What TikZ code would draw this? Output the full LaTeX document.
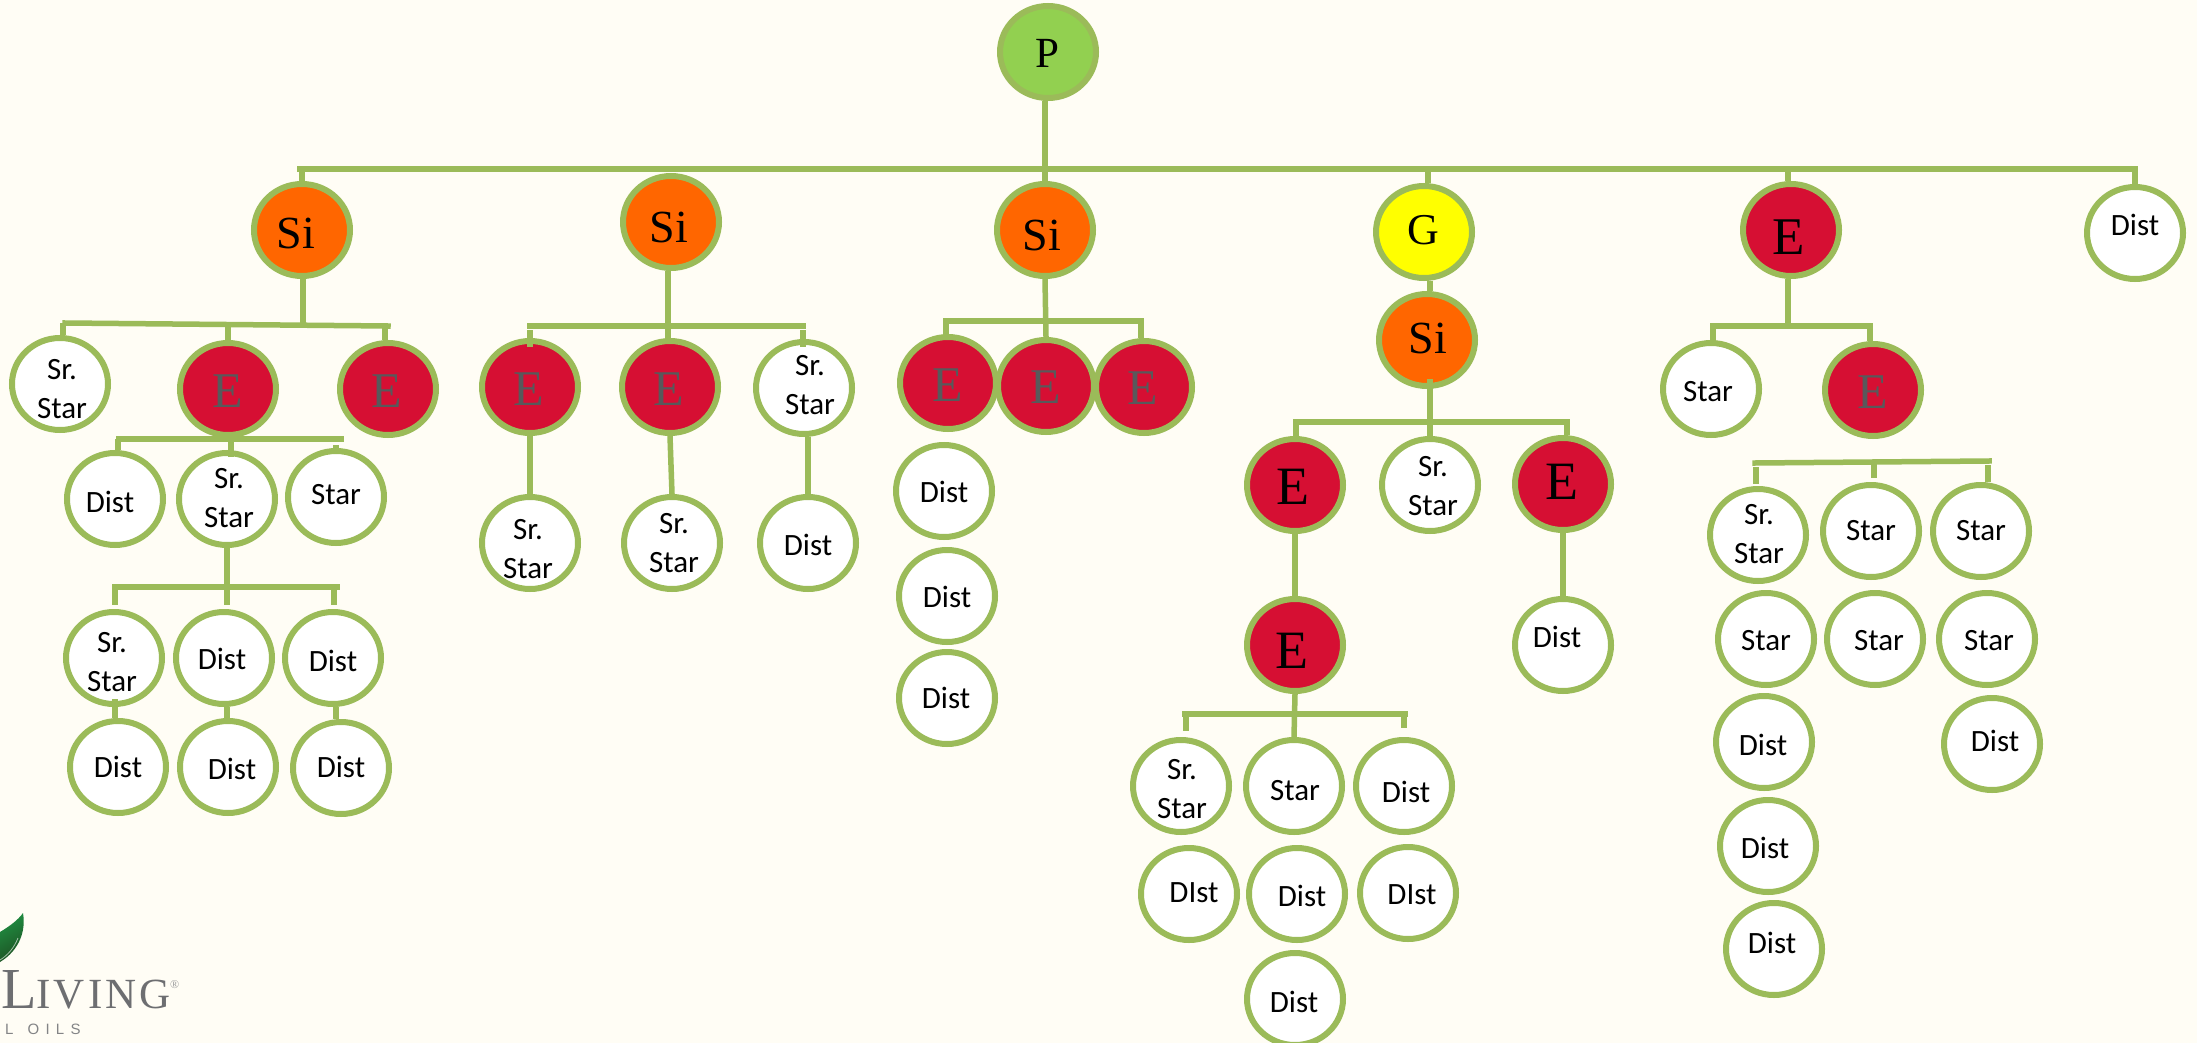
\documentclass[tikz,border=0pt]{standalone}
\usepackage{fontspec}
\setmainfont{Liberation Serif}
\setsansfont{Carlito}
\newfontfamily\logofont[LetterSpace=7]{Liberation Serif}
\newfontfamily\oilsfont[LetterSpace=42]{Liberation Sans}
\usetikzlibrary{shapes.geometric}

\definecolor{paper}{HTML}{FFFDF5}
\definecolor{ringgreen}{HTML}{9BBB59}
\definecolor{limefill}{HTML}{92D050}
\definecolor{sifill}{HTML}{FF6600}
\definecolor{goldfill}{HTML}{FFFF00}
\definecolor{efill}{HTML}{D60F33}
\definecolor{egrey}{HTML}{58595B}
\definecolor{logogrey}{HTML}{6D6E71}
\definecolor{leafdark}{HTML}{1E4F22}
\definecolor{leaflight}{HTML}{1F8F42}

\tikzset{
    member/.style={ellipse, draw=ringgreen, line width=6pt, minimum width=96pt, minimum height=92pt, inner sep=0pt},
    plainnode/.style={member, fill=white, align=center, font=\sffamily\fontsize{31}{39}\selectfont},
    rednode/.style={member, fill=efill},
    sinode/.style={member, fill=sifill},
    link/.style={draw=ringgreen, line width=5.5pt},
    bus/.style={link, line cap=rect},
    sanstag/.style n args={3}{label={[xshift=#1pt, yshift=#2pt, align=center, font=\sffamily\fontsize{31}{39}\selectfont]center:{#3}}},
    seriftag/.style n args={4}{label={[xshift=#1pt, yshift=#2pt, font=\rmfamily\fontsize{#3}{#3}\selectfont]center:{#4}}},
    greyE/.style 2 args={label={[xshift=#1pt, yshift=#2pt, text=egrey, font=\rmfamily\fontsize{50}{50}\selectfont]center:{E}}}
}

\begin{document}
\begin{tikzpicture}[x=1pt, y=-1pt]
    \useasboundingbox (0,0) rectangle (2197,1043);
    \fill[paper] (0,0) rectangle (2197,1043);

    % top of the tree
    \node[member, fill=limefill, seriftag={-1}{-1}{43}{P}] (p) at (1048,52) {};
    \node[sinode, seriftag={-6}{-3}{46}{Si}] (siA) at (302,230) {};
    \node[sinode, seriftag={-2}{-5}{46}{Si}] (siB) at (671,222) {};
    \node[sinode, seriftag={-3}{-5}{46}{Si}] (siC) at (1045,230) {};
    \node[member, fill=goldfill, seriftag={-1}{2}{44}{G}] (gold) at (1424,232) {};
    \node[sinode, seriftag={1}{2}{46}{Si}] (siD) at (1427,340) {};
    \node[rednode, seriftag={-2}{-7}{53}{E}] (eTop) at (1791,230) {};
    \node[plainnode, sanstag={0}{8}{Dist}] (dTop) at (2135,233) {};

    % first branch
    \node[plainnode, sanstag={2}{-5}{Sr.\\Star}] (srA) at (60,384) {};
    \node[rednode, greyE={0}{-2}] (eA) at (228,389) {};
    \node[rednode, greyE={-1}{-2}] (eB) at (388,389) {};
    \node[plainnode, sanstag={-5}{-3}{Dist}] (dA) at (115,499) {};
    \node[plainnode, sanstag={2}{1}{Sr.\\Star}] (srB) at (227,499) {};
    \node[plainnode, sanstag={0}{2}{Star}] (starA) at (336,497) {};
    \node[plainnode, sanstag={-2}{-4}{Sr.\\Star}] (srC) at (114,658) {};
    \node[plainnode, sanstag={-2}{-1}{Dist}] (dB) at (224,658) {};
    \node[plainnode, sanstag={0}{-3}{Dist}] (dC) at (333,658) {};
    \node[plainnode] (dD) at (118,767) {Dist};
    \node[plainnode, sanstag={4}{-2}{Dist}] (dE) at (228,767) {};
    \node[plainnode, sanstag={0}{1}{Dist}] (dF) at (341,768) {};

    % second branch
    \node[rednode, greyE={-1}{-2}] (eC) at (530,387) {};
    \node[rednode, greyE={-1}{-2}] (eD) at (670,387) {};
    \node[plainnode, sanstag={6}{3}{Sr.\\Star}] (srD) at (804,388) {};
    \node[plainnode, sanstag={-2}{-6}{Sr.\\Star}] (srE) at (530,543) {};
    \node[plainnode, sanstag={2}{0}{Sr.\\Star}] (srF) at (672,543) {};
    \node[plainnode, sanstag={0}{-2}{Dist}] (dG) at (808,543) {};

    % third branch
    \node[rednode, greyE={0}{-2}] (eE) at (948,383) {};
    \node[rednode, greyE={0}{-1}] (eF) at (1046,386) {};
    \node[rednode, greyE={-1}{-1}] (eG) at (1144,387) {};
    \node[plainnode, sanstag={0}{-1}{Dist}] (dH) at (944,491) {};
    \node[plainnode, sanstag={0}{-1}{Dist}] (dI) at (947,596) {};
    \node[plainnode, sanstag={-1}{0}{Dist}] (dJ) at (947,698) {};

    % fourth branch
    \node[rednode, seriftag={-2}{-2}{54}{E}] (eH) at (1295,485) {};
    \node[plainnode, sanstag={3}{-1}{Sr.\\Star}] (srG) at (1430,485) {};
    \node[rednode, seriftag={-1}{2}{54}{E}] (eI) at (1563,484) {};
    \node[rednode, seriftag={-3}{-6}{54}{E}] (eJ) at (1295,645) {};
    \node[plainnode, sanstag={-6}{8}{Dist}] (dK) at (1563,645) {};
    \node[plainnode, sanstag={1}{-3}{Sr.\\Star}] (srH) at (1181,786) {};
    \node[plainnode, sanstag={1}{-5}{Star}] (starB) at (1294,786) {};
    \node[plainnode, sanstag={2}{-6}{Dist}] (dL) at (1404,786) {};
    \node[plainnode, sanstag={5}{1}{DIst}] (dM) at (1189,894) {};
    \node[plainnode, sanstag={5}{-2}{Dist}] (dN) at (1297,894) {};
    \node[plainnode, sanstag={4}{-2}{DIst}] (dO) at (1408,893) {};
    \node[plainnode, sanstag={-1}{-3}{Dist}] (dP) at (1295,999) {};

    % fifth branch
    \node[plainnode, sanstag={-3}{-3}{Star}] (starC) at (1711,389) {};
    \node[rednode, greyE={0}{-2}] (eK) at (1873,390) {};
    \node[plainnode, sanstag={1}{1}{Sr.\\Star}] (srI) at (1758,535) {};
    \node[plainnode] (starD) at (1871,531) {Star};
    \node[plainnode] (starE) at (1981,531) {Star};
    \node[plainnode, sanstag={0}{-2}{Star}] (starF) at (1766,639) {};
    \node[plainnode, sanstag={4}{-2}{Star}] (starG) at (1875,639) {};
    \node[plainnode, sanstag={2}{-2}{Star}] (starH) at (1987,639) {};
    \node[plainnode, sanstag={-1}{-3}{Dist}] (dQ) at (1764,742) {};
    \node[plainnode, sanstag={3}{3}{Dist}] (dR) at (1992,744) {};
    \node[plainnode, sanstag={-3}{-2}{Dist}] (dS) at (1768,846) {};
    \node[plainnode, sanstag={-2}{6}{Dist}] (dT) at (1774,949) {};

    % top bus
    \coordinate (topL) at (300,169);
    \coordinate (topR) at (2135,169);
    \coordinate (topMid) at (1045,169);
    \coordinate (topS) at (302,169);
    \coordinate (topG) at (1428,169);
    \coordinate (topE) at (1788,169);
    \draw[bus] (topL) -- (topR);
    \draw[link] (topMid |- p.south) -- (topMid |- siC.north);
    \draw[link] (topS) -- (topS |- siA.north);
    \draw[link] (topG) -- (topG |- gold.north);
    \draw[link] (topE) -- (topE |- eTop.north);
    \draw[link] (topR) -- (topR |- dTop.north);

    % first branch links
    \coordinate (busA) at (65,323);
    \coordinate (busB) at (388,326);
    \coordinate (stemA) at (303,325);
    \coordinate (dropA) at (63,323);
    \coordinate (dropB) at (228,325);
    \coordinate (dropC) at (385,326);
    \draw[bus] (busA) -- (busB);
    \draw[link] (stemA |- siA.south) -- (stemA);
    \draw[link] (dropA) -- (dropA |- srA.north);
    \draw[link] (dropB) -- (dropB |- eA.north);
    \draw[link] (dropC) -- (dropC |- eB.north);
    \coordinate (busC) at (119,439);
    \coordinate (busD) at (341,439);
    \coordinate (dropD) at (118,439);
    \coordinate (dropE) at (231,439);
    \coordinate (endE) at (231,457);
    \coordinate (dropF) at (336,445);
    \draw[bus] (busC) -- (busD);
    \draw[link] (dropD) -- (dropD |- dA.north);
    \draw[link] (dropE) -- (endE);
    \draw[link] (dropF) -- (dropF |- starA.north);
    \coordinate (busE) at (115,587);
    \coordinate (busF) at (337,587);
    \coordinate (dropG) at (227,587);
    \coordinate (dropH) at (334,587);
    \coordinate (endG) at (115,605);
    \coordinate (endH) at (227,605);
    \coordinate (endI) at (334,605);
    \draw[bus] (busE) -- (busF);
    \draw[link] (srB.south) -- (dropG);
    \draw[link] (busE) -- (endG);
    \draw[link] (dropG) -- (endH);
    \draw[link] (dropH) -- (endI);
    \coordinate (lineA) at (115,699);
    \coordinate (lineB) at (227,700);
    \coordinate (lineC) at (336,700);
    \draw[link] (lineA) -- (lineA |- dD.north);
    \draw[link] (lineB |- dB.south) -- (lineB |- dE.north);
    \draw[link] (lineC |- dC.south) -- (lineC |- dF.north);

    % second branch links
    \coordinate (busG) at (530,326);
    \coordinate (busH) at (803,326);
    \coordinate (stemB) at (668,326);
    \coordinate (dropI) at (530,330);
    \coordinate (endJ) at (530,347);
    \coordinate (dropJ) at (803,330);
    \coordinate (endK) at (803,347);
    \coordinate (lineD) at (808,450);
    \draw[bus] (busG) -- (busH);
    \draw[link] (stemB |- siB.south) -- (stemB);
    \draw[link] (stemB) -- (stemB |- eD.north);
    \draw[link] (dropI) -- (endJ);
    \draw[link] (dropJ) -- (endK);
    \draw[link] (eC.south) -- (srE.north);
    \draw[link] (eD.south) -- (srF.north);
    \draw[link] (lineD |- srD.south) -- (lineD |- dG.north);

    % third branch links
    \coordinate (busI) at (946,321);
    \coordinate (busJ) at (1141,321);
    \draw[bus] (busI) -- (busJ);
    \draw[link] (siC.south) -- (eF.north);
    \draw[link] (busI) -- (busI |- eE.north);
    \draw[link] (busJ) -- (busJ |- eG.north);

    % fourth branch links
    \coordinate (lineE) at (1430,300);
    \coordinate (stemC) at (1430,379);
    \coordinate (busK) at (1296,422);
    \coordinate (busL) at (1567,422);
    \draw[link] (lineE |- gold.south) -- (lineE |- siD.north);
    \draw[link] (stemC) -- (stemC |- srG.north);
    \draw[bus] (busK) -- (busL);
    \draw[link] (busK) -- (busK |- eH.north);
    \draw[link] (busL) -- (busL |- eI.north);
    \draw[link] (eH.south) -- (eJ.north);
    \draw[link] (eI.south) -- (dK.north);
    \coordinate (busM) at (1185,714);
    \coordinate (busN) at (1405,714);
    \coordinate (endL) at (1186,731);
    \coordinate (endM) at (1404,728);
    \draw[bus] (busM) -- (busN);
    \draw[link] (eJ.south) -- (starB.north);
    \draw[link] (endL |- busM) -- (endL);
    \draw[link] (endM |- busN) -- (endM);

    % fifth branch links
    \coordinate (busO) at (1713,326);
    \coordinate (busP) at (1870,326);
    \draw[bus] (busO) -- (busP);
    \draw[link] (topE |- eTop.south) -- (topE |- busO);
    \draw[link] (busO) -- (busO |- starC.north);
    \draw[link] (busP) -- (busP |- eK.north);
    \coordinate (busQ) at (1755,463);
    \coordinate (busR) at (1989,461);
    \coordinate (dropK) at (1756,467);
    \coordinate (endN) at (1756,484);
    \coordinate (dropL) at (1874,462);
    \coordinate (endO) at (1874,478);
    \coordinate (dropM) at (1988,465);
    \coordinate (endP) at (1988,482);
    \draw[bus] (busQ) -- (busR);
    \draw[link] (dropK) -- (endN);
    \draw[link] (dropL) -- (endO);
    \draw[link] (dropM) -- (endP);

    % logo
    \shade[left color=leaflight, right color=leafdark, shading angle=30]
        (0,932) .. controls (10,926) and (18,920) .. (23,913)
        .. controls (26,930) and (20,950) .. (0,962) -- cycle;
    \draw[white, opacity=0.6, line width=0.8pt] (0,960) .. controls (8,955) and (14,948) .. (18,938);
    \node[anchor=base west, inner sep=0pt, text=logogrey, font=\logofont] (living) at (1,1008)
        {{\fontsize{58}{58}\selectfont L}{\fontsize{43}{43}\selectfont IVING}};
    \node[anchor=base west, inner sep=0pt, text=logogrey!70, font=\fontsize{12}{12}\selectfont\rmfamily] (regd) at (170,988) {®};
    \node[anchor=base west, inner sep=0pt, text=logogrey!85, font=\oilsfont\fontsize{15}{15}\selectfont] (oils) at (5,1034) {L\hspace{14pt}OILS};
\end{tikzpicture}
\end{document}
